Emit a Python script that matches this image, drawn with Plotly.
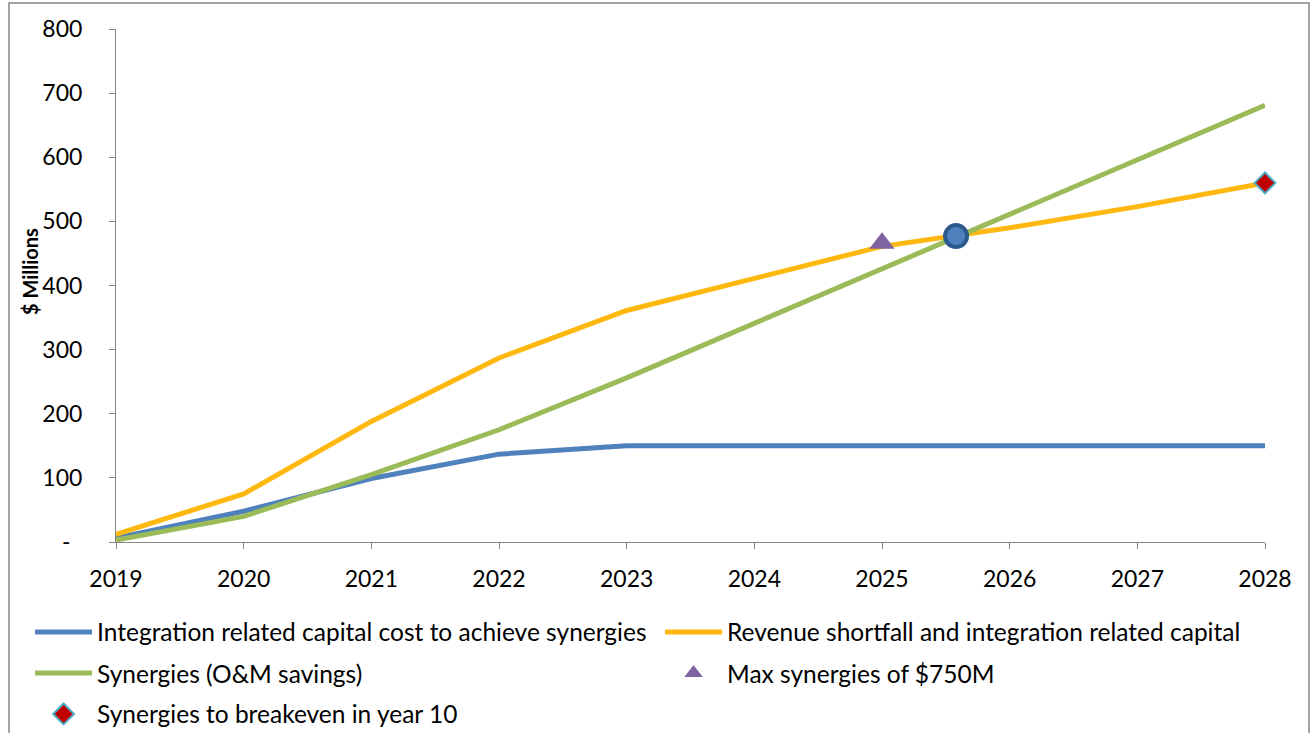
import plotly.graph_objects as go

years = [2019, 2020, 2021, 2022, 2023, 2024, 2025, 2026, 2027, 2028]
integration_capital = [6, 48, 99, 137, 150, 150, 150, 150, 150, 150]
revenue_shortfall = [12, 75, 188, 287, 361, 411, 461, 490, 523, 560]
synergies = [3, 40, 105, 175, 256, 341, 426, 511, 596, 681]
max_syn_x = [2025]
max_syn_y = [466]
breakeven_x = [2028]
breakeven_y = [560]
cross_x = [2025.58]
cross_y = [477]
ytick_vals = [0, 100, 200, 300, 400, 500, 600, 700, 800]
ytick_text = ["-\u00a0\u00a0", "100", "200", "300", "400", "500", "600", "700", "800"]

FONT = "Lato"
fig = go.Figure()
fig.add_trace(go.Scatter(x=years, y=integration_capital, mode="lines",
                         name="Integration related capital cost to achieve synergies",
                         line=dict(color="#4F81BD", width=5), legend="legend"))
fig.add_trace(go.Scatter(x=years, y=revenue_shortfall, mode="lines",
                         name="Revenue shortfall and integration related capital",
                         line=dict(color="#FFB80F", width=5), legend="legend"))
fig.add_trace(go.Scatter(x=years, y=synergies, mode="lines",
                         name="Synergies (O&M savings)",
                         line=dict(color="#9BBB59", width=5), legend="legend2"))
fig.add_trace(go.Scatter(x=max_syn_x, y=max_syn_y, mode="markers",
                         name="Max synergies of $750M", cliponaxis=False,
                         marker=dict(symbol="triangle-up", size=22, color="#8064A2"),
                         legend="legend2"))
fig.add_trace(go.Scatter(x=breakeven_x, y=breakeven_y, mode="markers",
                         name="Synergies to breakeven in year 10", cliponaxis=False,
                         marker=dict(symbol="diamond", size=16, color="#C00000",
                                     line=dict(color="#4BACC6", width=2)),
                         legend="legend3"))
fig.add_trace(go.Scatter(x=cross_x, y=cross_y, mode="markers", showlegend=False,
                         cliponaxis=False,
                         marker=dict(symbol="circle", size=22, color="#4F81BD",
                                     line=dict(color="#2C5A8F", width=4))))

leg_common = dict(orientation="h", x=-0.0748, xanchor="left", yanchor="middle",
                  entrywidth=558, entrywidthmode="pixels", itemwidth=57,
                  font=dict(family=FONT, size=24.5, color="black"),
                  bgcolor="rgba(0,0,0,0)")

fig.update_layout(
    width=1312, height=733,
    margin=dict(l=116, r=47, t=29, b=191, autoexpand=False),
    paper_bgcolor="white", plot_bgcolor="white",
    font=dict(family=FONT, size=23, color="black"),
    xaxis=dict(range=[2019, 2028], tickvals=years, ticktext=[str(y) for y in years],
               showgrid=False, zeroline=False, showline=True, linecolor="#868686",
               linewidth=1, ticks="outside", ticklen=6, tickcolor="#868686",
               ticklabelstandoff=10, tickfont=dict(size=23)),
    yaxis=dict(range=[0, 800], tickvals=ytick_vals, ticktext=ytick_text,
               showgrid=False, zeroline=False, showline=True, linecolor="#868686",
               linewidth=1, ticks="outside", ticklen=6, tickcolor="#868686",
               ticklabelstandoff=22, tickfont=dict(size=23)),
    legend=dict(leg_common, y=-0.1754),
    legend2=dict(leg_common, y=-0.2554),
    legend3=dict(leg_common, y=-0.3353),
    annotations=[dict(text="<b>$ Millions</b>", textangle=-90, xref="paper", yref="paper",
                      x=(30 - 116) / 1149, y=(542 - 272) / 513, xanchor="center",
                      yanchor="middle", showarrow=False,
                      font=dict(family=FONT, size=20, color="black"))],
    shapes=[dict(type="rect", xref="paper", yref="paper",
                 x0=(9 - 116) / 1149, x1=(1309 - 116) / 1149,
                 y0=-0.5, y1=(542 - 3) / 513,
                 line=dict(color="#868686", width=1.5), fillcolor="rgba(0,0,0,0)",
                 layer="below")],
)

fig.write_html("out.html")
